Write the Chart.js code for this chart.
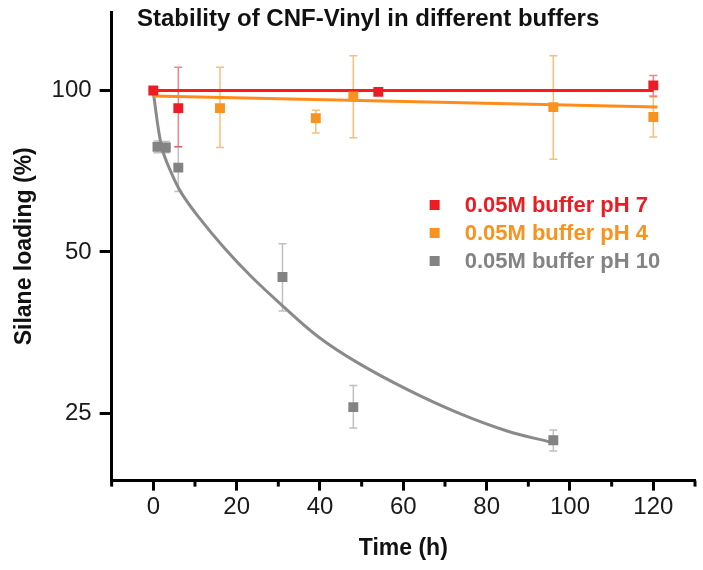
<!DOCTYPE html>
<html>
<head>
<meta charset="utf-8">
<script src="https://cdn.jsdelivr.net/npm/chart.js@4.4.0/dist/chart.umd.min.js"></script>
<style>
    html, body { margin: 0; padding: 0; background: #fff; }
    #wrap { width: 703px; height: 570px; }
</style>
</head>
<body>
<div id="wrap"><canvas id="stabilityChart"></canvas></div>
<script>
const chartTitle = 'Stability of CNF-Vinyl in different buffers';
const seriesLabels = ['0.05M buffer pH 7', '0.05M buffer pH 4', '0.05M buffer pH 10'];
const xTickStep = 10;
const yTicks = [25, 50, 100];

// pH 7 (red)
const ph7Time = [0, 6, 54, 120];
const ph7Load = [100, 92.7, 99.4, 102.2];
const ph7Low = [null, 78.5, null, 97.6];
const ph7High = [null, 110.5, null, 106.6];
const ph7FitTime = [0, 120];
const ph7FitLoad = [100, 100];

// pH 4 (orange)
const ph4Time = [16, 39, 48, 96, 120];
const ph4Load = [92.7, 88.8, 97.4, 93.1, 89.2];
const ph4Low = [78.3, 83.3, 81.6, 74.4, 81.9];
const ph4High = [110.5, 91.8, 116.1, 116.1, 97.2];
const ph4FitTime = [0, 121];
const ph4FitLoad = [97.6, 93.1];

// pH 10 (grey)
const ph10Time = [1, 3, 6, 31, 48, 96];
const ph10Load = [78.5, 78.3, 71.8, 44.9, 25.7, 22.3];
const ph10Low = [76.5, 76.5, 64.8, 38.8, 23.5, 21.3];
const ph10High = [80.5, 80.3, 78.5, 51.8, 28.2, 23.3];
const ph10FitTime = [0, 2, 4.4, 6.8, 10.8, 17.1, 23.5, 30.7, 39.5, 49, 61, 73, 84.9, 95.5];
const ph10FitLoad = [99, 78.5, 70, 64.3, 58.2, 50.8, 45, 39.9, 34.8, 31.1, 27.7, 25.1, 23.2, 22.1];

const colRed = '#ec1c24';
const colOrange = '#f7931e';
const colGrey = '#838383';

function toPoints(xs, ys) {
    return xs.map((x, i) => ({x: x, y: ys[i]}));
}

const errorSets = [
    {time: ph10Time, low: ph10Low, high: ph10High, color: 'rgba(150,150,150,0.6)'},
    {time: ph4Time, low: ph4Low, high: ph4High, color: 'rgba(247,147,30,0.6)'},
    {time: ph7Time, low: ph7Low, high: ph7High, color: 'rgba(236,28,36,0.55)'}
];

const errorBarPlugin = {
    id: 'errorBars',
    beforeDatasetsDraw(chart) {
        const ctx = chart.ctx;
        const xs = chart.scales.x, ys = chart.scales.y;
        errorSets.forEach(s => {
            ctx.save();
            ctx.strokeStyle = s.color;
            ctx.lineWidth = 1.5;
            s.time.forEach((t, i) => {
                if (s.low[i] == null) return;
                const px = xs.getPixelForValue(t);
                const top = ys.getPixelForValue(s.high[i]);
                const bot = ys.getPixelForValue(s.low[i]);
                ctx.beginPath();
                ctx.moveTo(px, top); ctx.lineTo(px, bot);
                ctx.moveTo(px - 4, top); ctx.lineTo(px + 4, top);
                ctx.moveTo(px - 4, bot); ctx.lineTo(px + 4, bot);
                ctx.stroke();
            });
            ctx.restore();
        });
    }
};

// minor x ticks are shorter than the labelled ones
const minorTickPlugin = {
    id: 'minorTicks',
    afterDraw(chart) {
        const ctx = chart.ctx;
        const xs = chart.scales.x;
        ctx.save();
        ctx.strokeStyle = '#000';
        ctx.lineWidth = 3;
        xs.ticks.forEach(t => {
            if (t.value % 20 === 0) return;
            const px = xs.getPixelForValue(t.value);
            ctx.beginPath();
            ctx.moveTo(px, xs.top);
            ctx.lineTo(px, xs.top + 6);
            ctx.stroke();
        });
        ctx.restore();
    }
};

const titleLegendPlugin = {
    id: 'titleLegend',
    afterDraw(chart) {
        const ctx = chart.ctx;
        const area = chart.chartArea;
        ctx.save();
        ctx.fillStyle = '#111';
        ctx.font = 'bold 24px "Liberation Sans", Arial, sans-serif';
        ctx.textBaseline = 'middle';
        ctx.textAlign = 'left';
        ctx.fillText(chartTitle, 137, 19);

        const colors = [colRed, colOrange, colGrey];
        ctx.font = 'bold 22px "Liberation Sans", Arial, sans-serif';
        seriesLabels.forEach((label, i) => {
            const yy = 205 + i * 28;
            ctx.fillStyle = colors[i];
            ctx.fillRect(area.left + 318, yy - 5, 10, 10);
            ctx.fillText(label, area.left + 353, yy + 1);
        });
        ctx.restore();
    }
};

const ctx = document.getElementById('stabilityChart').getContext('2d');
new Chart(ctx, {
    type: 'scatter',
    data: {
        datasets: [
            {
                label: seriesLabels[0],
                data: toPoints(ph7Time, ph7Load),
                pointStyle: 'rect', pointRadius: 7,
                backgroundColor: colRed, borderColor: colRed, borderWidth: 0,
                order: 0
            },
            {
                label: seriesLabels[1],
                data: toPoints(ph4Time, ph4Load),
                pointStyle: 'rect', pointRadius: 7,
                backgroundColor: colOrange, borderColor: colOrange, borderWidth: 0,
                order: 1
            },
            {
                label: seriesLabels[2],
                data: toPoints(ph10Time, ph10Load),
                pointStyle: 'rect', pointRadius: 7,
                backgroundColor: colGrey, borderColor: colGrey, borderWidth: 0,
                order: 2
            },
            {
                label: 'fit pH 7',
                data: toPoints(ph7FitTime, ph7FitLoad),
                showLine: true, pointRadius: 0,
                borderColor: '#ff1a1a', borderWidth: 3,
                order: 3
            },
            {
                label: 'fit pH 4',
                data: toPoints(ph4FitTime, ph4FitLoad),
                showLine: true, pointRadius: 0,
                borderColor: '#ff8c1a', borderWidth: 3,
                order: 4
            },
            {
                label: 'fit pH 10',
                data: toPoints(ph10FitTime, ph10FitLoad),
                showLine: true, pointRadius: 0,
                borderColor: '#8a8a8a', borderWidth: 3,
                tension: 0.35,
                order: 5
            }
        ]
    },
    options: {
        responsive: true,
        maintainAspectRatio: false,
        animation: false,
        layout: {
            padding: {left: 11, top: 12, right: 8, bottom: 8}
        },
        plugins: {
            legend: {display: false},
            tooltip: {enabled: false}
        },
        scales: {
            x: {
                type: 'linear',
                min: -10,
                max: 130,
                border: {color: '#000', width: 3},
                grid: {
                    drawOnChartArea: false,
                    tickLength: 10,
                    tickWidth: 3,
                    tickColor: (c) => (c.tick && c.tick.value % 20 === 0) ? '#000' : 'rgba(0,0,0,0)'
                },
                ticks: {
                    stepSize: xTickStep,
                    autoSkip: false,
                    maxRotation: 0,
                    padding: 2,
                    color: '#1a1a1a',
                    font: {family: '"Liberation Sans", Arial, sans-serif', size: 24},
                    callback: (v) => v % 20 === 0 ? v : ''
                },
                title: {
                    display: true,
                    text: 'Time (h)',
                    color: '#111',
                    padding: {top: 11, bottom: 0},
                    font: {family: '"Liberation Sans", Arial, sans-serif', size: 23, weight: 'bold'}
                }
            },
            y: {
                type: 'logarithmic',
                min: 18.75,
                max: 140,
                border: {color: '#000', width: 3},
                afterBuildTicks: (scale) => {
                    scale.ticks = yTicks.map(v => ({value: v}));
                },
                afterFit: (scale) => {
                    scale.paddingTop = 0;
                    scale.paddingBottom = 0;
                },
                grid: {
                    drawOnChartArea: false,
                    tickLength: 12,
                    tickWidth: 3,
                    tickColor: '#000'
                },
                ticks: {
                    padding: 8,
                    color: '#1a1a1a',
                    font: {family: '"Liberation Sans", Arial, sans-serif', size: 24},
                    callback: (v) => String(v)
                },
                title: {
                    display: true,
                    text: 'Silane loading (%)',
                    color: '#111',
                    padding: {top: 0, bottom: 5},
                    font: {family: '"Liberation Sans", Arial, sans-serif', size: 23, weight: 'bold'}
                }
            }
        }
    },
    plugins: [errorBarPlugin, minorTickPlugin, titleLegendPlugin]
});
</script>
</body>
</html>
